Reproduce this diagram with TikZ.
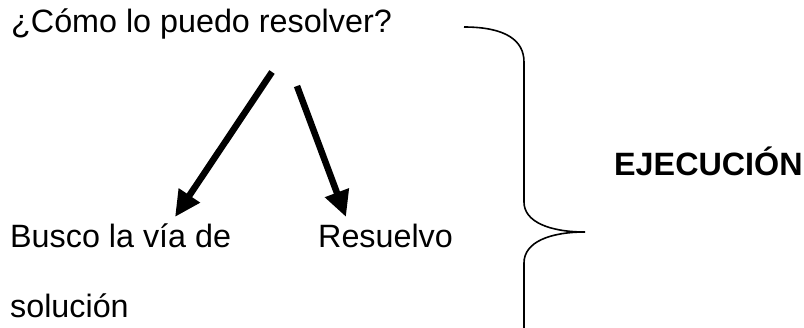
\documentclass[tikz,border=0pt]{standalone}
\usepackage{fontspec}
\setmainfont{Liberation Sans}
\usetikzlibrary{arrows.meta}
\begin{document}
\begin{tikzpicture}[x=1pt,y=-1pt,
  lbl/.style={anchor=base west,inner sep=0pt,font=\fontsize{32.3}{38}\selectfont},
  bigarrow/.style={line width=6.5pt,-{Triangle[length=26pt,width=24pt]}},
  bracepath/.style={line width=1.6pt}]
\useasboundingbox (0,0) rectangle (804,327);

% texts
\node[lbl] (q) at (11,32) {¿Cómo lo puedo resolver?};
\node[lbl] (busco) at (10,247) {Busco la vía de};
\node[lbl] (sol) at (10,317) {solución};
\node[lbl] (res) at (318,247) {Resuelvo};
\node[lbl,font=\fontsize{32.3}{38}\selectfont\bfseries] (ej) at (614,175) {EJECUCIÓN};

% arrow ends
\coordinate (l0) at (272,72);
\coordinate (l1) at (175,217);
\coordinate (r0) at (297,86);
\coordinate (r1) at (346,217);
\draw[bigarrow] (l0) -- (l1);
\draw[bigarrow] (r0) -- (r1);

% curly brace
\coordinate (b0) at (464,27);
\coordinate (b1) at (524,62);
\coordinate (b2) at (524,202);
\coordinate (tip) at (585,232);
\coordinate (b3) at (524,263);
\coordinate (b4) at (524,330);
\draw[bracepath] (b0) .. controls (505,27) and (524,40) .. (b1)
  -- (b2) .. controls (524,222) and (550,232) .. (tip)
  .. controls (550,232) and (524,242) .. (b3) -- (b4);
\end{tikzpicture}
\end{document}
